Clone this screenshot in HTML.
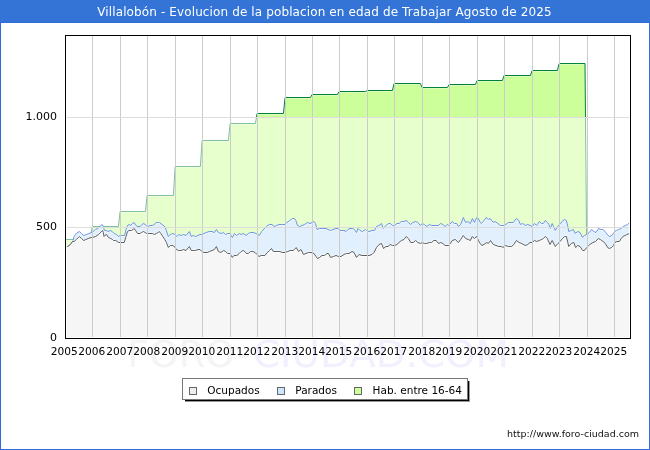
<!DOCTYPE html>
<html><head><meta charset="utf-8"><title>Villalobón - Evolucion de la poblacion en edad de Trabajar</title>
<style>
html,body{margin:0;padding:0;background:#fff;}
body{width:650px;height:450px;overflow:hidden;}
svg{display:block;}
text{font-family:"DejaVu Sans","Liberation Sans",sans-serif;}
</style></head><body>
<svg width="650" height="450" viewBox="0 0 650 450">
<defs><clipPath id="pc"><rect x="67" y="36" width="562" height="301"/></clipPath><clipPath id="pg"><rect x="66" y="36" width="563" height="301"/></clipPath></defs>
<rect x="0" y="0" width="650" height="450" fill="#fff"/>
<rect x="0" y="0" width="650" height="22" fill="#3374d6"/>
<rect x="0.5" y="22.5" width="649" height="427" fill="none" stroke="#2d6cd6" stroke-width="1"/>
<text x="324.5" y="16" fill="#fff" font-size="12" letter-spacing="0.12" text-anchor="middle">Villalobón - Evolucion de la poblacion en edad de Trabajar Agosto de 2025</text>
<g font-size="37"><text x="127.2" y="367" fill="#f4f4f4" textLength="107.6" lengthAdjust="spacingAndGlyphs">FORO</text><text x="237" y="367" fill="#f4f4f4">-</text><text x="253" y="367" fill="#f0f0ff" textLength="256" lengthAdjust="spacingAndGlyphs">CIUDAD.COM</text></g>
<g clip-path="url(#pg)">
<polygon points="64,239.5 90.4,239.5 92.1,226.5 118.4,226.5 120.1,211.5 145.4,211.5 147.1,195.5 173.4,195.5 175.1,166.5 200.4,166.5 202.1,140.5 228.4,140.5 230.1,123.5 255.4,123.5 257.1,113.5 283.4,113.5 285.1,97.5 310.4,97.5 312.1,94.5 337.4,94.5 339.1,91.5 365.4,91.5 367.1,90.5 392.4,90.5 394.1,83.5 420.4,83.5 422.1,87.5 447.4,87.5 449.1,84.5 475.4,84.5 477.1,80.5 502.4,80.5 504.1,75.5 530.4,75.5 532.1,70.5 557.4,70.5 559.1,63.5 585,63.5 587.5,338 587.5,338 64,338" fill="#ccff99"/>
<polyline points="64,240.5 90.4,240.5 92.1,227.5 118.4,227.5 120.1,212.5 145.4,212.5 147.1,196.5 173.4,196.5 175.1,167.5 200.4,167.5 202.1,141.5 228.4,141.5 230.1,124.5 255.4,124.5 257.1,114.5 283.4,114.5 285.1,98.5 310.4,98.5 312.1,95.5 337.4,95.5 339.1,92.5 365.4,92.5 367.1,91.5 392.4,91.5 394.1,84.5 420.4,84.5 422.1,88.5 447.4,88.5 449.1,85.5 475.4,85.5 477.1,81.5 502.4,81.5 504.1,76.5 530.4,76.5 532.1,71.5 557.4,71.5 559.1,64.5 585,64.5" fill="none" stroke="#fff" stroke-opacity="0.3" stroke-width="1"/>
<polyline points="64,239.5 90.4,239.5 92.1,226.5 118.4,226.5 120.1,211.5 145.4,211.5 147.1,195.5 173.4,195.5 175.1,166.5 200.4,166.5 202.1,140.5 228.4,140.5 230.1,123.5 255.4,123.5 257.1,113.5 283.4,113.5 285.1,97.5 310.4,97.5 312.1,94.5 337.4,94.5 339.1,91.5 365.4,91.5 367.1,90.5 392.4,90.5 394.1,83.5 420.4,83.5 422.1,87.5 447.4,87.5 449.1,84.5 475.4,84.5 477.1,80.5 502.4,80.5 504.1,75.5 530.4,75.5 532.1,70.5 557.4,70.5 559.1,63.5 585,63.5 587.5,338" fill="none" stroke="#00803f" stroke-width="1"/>
<rect x="66" y="117" width="563" height="221" fill="#fff" fill-opacity="0.5"/>
</g>
<g clip-path="url(#pc)">
<polygon points="66.5,247.5 70.4,244.5 73,240.5 74.1,236.5 76.3,233.5 79.3,231.5 81.5,233.5 83.7,235.5 86.7,234.5 88.9,233.5 91.5,232.5 93.3,231.5 95.5,229.5 97.8,228.5 100,226.5 102.2,224.5 103.3,226.5 104.4,230.5 106.3,230.5 108.1,231.5 110.3,230.5 112.2,231.5 114.2,233.5 116.4,234.5 118.6,236.5 120.1,235.5 122.3,235.5 124.6,235.5 126,229.5 127.5,225.5 129,224.5 130.8,225.5 132.3,223.5 134.2,222.5 136,225.5 137.8,226.5 140.1,226.5 141.9,224.5 143.8,223.5 146.3,225.5 148.2,226.5 150,225.5 152.3,225.5 154.1,224.5 156.3,222.5 158.2,222.5 159.6,222.5 162,224.5 164.8,226.5 166.4,230.5 168.2,236.5 170.4,234.5 172.8,233.5 174.8,234.5 176.8,236.5 178.8,234.5 181.2,235.5 183.6,234.5 186,235.5 189.4,231.5 191.2,236.5 193.2,235.5 195.6,236.5 198,235.5 200,234.5 201.8,234.5 204,233.5 206.4,232.5 209.2,231.5 212,231.5 214.4,232.5 216.4,229.5 218.4,232.5 221.2,233.5 223.2,232.5 225.6,234.5 227.6,233.5 230,233.5 231.2,235.5 232.4,237.5 234.4,233.5 236.8,235.5 239.2,233.5 241.2,234.5 243.2,233.5 246,235.5 248.4,233.5 250.4,232.5 253.3,232.5 256.1,233.5 259.3,235.5 261.7,231.5 265.4,227.5 267.3,225.5 269.6,224.5 271.9,224.5 274.3,226.5 276.6,225.5 278.9,224.5 282.2,224.5 285,224.5 286.9,222.5 289.7,220.5 292.5,218.5 294.4,218.5 295.8,220.5 297.5,225.5 299.5,226.5 302,225.5 304.5,224.5 307.5,222.5 310,223.5 312,222.5 314,221.5 315.5,223.5 317,229.5 319.5,228.5 322.5,228.5 326,228.5 328,229.5 330.5,230.5 333,229.5 336,228.5 338,228.5 340,230.5 342,230.5 344,230.5 346,231.5 348,229.5 350,228.5 352.5,228.5 354.5,229.5 356.5,232.5 358,228.5 360,230.5 362.5,231.5 365.5,229.5 366.5,230.5 369,231.5 372,230.5 374.5,230.5 376.5,226.5 379,225.5 381.5,223.5 383.2,228.5 386,225.5 388.5,223.5 390.2,223.5 392.4,225.5 394.7,225.5 396.9,223.5 399.1,223.5 401.3,221.5 404,221.5 406.2,220.5 408.4,222.5 410.7,224.5 412.9,222.5 415.6,221.5 417.8,222.5 420.4,225.5 422.2,223.5 424.4,224.5 426.7,226.5 429.3,224.5 431.6,225.5 434,225.5 438.4,225.5 440.7,223.5 442.9,224.5 445.1,226.5 447.3,224.5 448.7,225.5 452.2,221.5 454.4,223.5 456.7,223.5 458.4,226.5 460.7,224.5 463.3,217.5 465.6,222.5 467.8,221.5 470.4,223.5 472.4,218.5 474.4,222.5 476.7,217.5 478.4,218.5 480.2,222.5 481.3,223.5 484,220.5 486.2,217.5 488.4,219.5 490.2,218.5 493.3,222.5 495.1,221.5 497.8,223.5 500.4,225.5 504,225.5 505.8,224.5 508.4,222.5 513.3,222.5 516.4,218.5 518.7,220.5 520.4,224.5 522.7,223.5 525.3,225.5 527.8,224.5 530,225.5 532.2,226.5 534.4,223.5 536.7,225.5 539.3,221.5 541.6,223.5 543.3,223.5 545.4,220.5 547.3,222.5 548.9,224.5 550.4,228.5 552.2,223.5 553.6,226.5 555.3,230.5 557.1,227.5 558.4,225.5 560.7,223.5 562.9,220.5 564.7,219.5 566.4,220.5 567.8,226.5 568.7,231.5 571.3,230.5 573.3,229.5 575.1,233.5 577.8,231.5 580,232.5 582.5,237.5 584.4,235.5 586.7,234.5 589.3,232.5 591.6,229.5 593.8,231.5 596,232.5 598.7,228.5 600.9,229.5 603.1,229.5 605.8,232.5 608,235.5 609.8,236.5 611.9,235.5 613.3,233.5 614.8,231.5 616.5,230.5 618.7,229.5 621.2,228.5 623.3,226.5 625.4,225.5 627.6,224.5 629.6,222.5 629.6,338 66.5,338" fill="#e2f0fe"/>
<polyline points="66.5,248.5 70.4,245.5 73,241.5 74.1,237.5 76.3,234.5 79.3,232.5 81.5,234.5 83.7,236.5 86.7,235.5 88.9,234.5 91.5,233.5 93.3,232.5 95.5,230.5 97.8,229.5 100,227.5 102.2,225.5 103.3,227.5 104.4,231.5 106.3,231.5 108.1,232.5 110.3,231.5 112.2,232.5 114.2,234.5 116.4,235.5 118.6,237.5 120.1,236.5 122.3,236.5 124.6,236.5 126,230.5 127.5,226.5 129,225.5 130.8,226.5 132.3,224.5 134.2,223.5 136,226.5 137.8,227.5 140.1,227.5 141.9,225.5 143.8,224.5 146.3,226.5 148.2,227.5 150,226.5 152.3,226.5 154.1,225.5 156.3,223.5 158.2,223.5 159.6,223.5 162,225.5 164.8,227.5 166.4,231.5 168.2,237.5 170.4,235.5 172.8,234.5 174.8,235.5 176.8,237.5 178.8,235.5 181.2,236.5 183.6,235.5 186,236.5 189.4,232.5 191.2,237.5 193.2,236.5 195.6,237.5 198,236.5 200,235.5 201.8,235.5 204,234.5 206.4,233.5 209.2,232.5 212,232.5 214.4,233.5 216.4,230.5 218.4,233.5 221.2,234.5 223.2,233.5 225.6,235.5 227.6,234.5 230,234.5 231.2,236.5 232.4,238.5 234.4,234.5 236.8,236.5 239.2,234.5 241.2,235.5 243.2,234.5 246,236.5 248.4,234.5 250.4,233.5 253.3,233.5 256.1,234.5 259.3,236.5 261.7,232.5 265.4,228.5 267.3,226.5 269.6,225.5 271.9,225.5 274.3,227.5 276.6,226.5 278.9,225.5 282.2,225.5 285,225.5 286.9,223.5 289.7,221.5 292.5,219.5 294.4,219.5 295.8,221.5 297.5,226.5 299.5,227.5 302,226.5 304.5,225.5 307.5,223.5 310,224.5 312,223.5 314,222.5 315.5,224.5 317,230.5 319.5,229.5 322.5,229.5 326,229.5 328,230.5 330.5,231.5 333,230.5 336,229.5 338,229.5 340,231.5 342,231.5 344,231.5 346,232.5 348,230.5 350,229.5 352.5,229.5 354.5,230.5 356.5,233.5 358,229.5 360,231.5 362.5,232.5 365.5,230.5 366.5,231.5 369,232.5 372,231.5 374.5,231.5 376.5,227.5 379,226.5 381.5,224.5 383.2,229.5 386,226.5 388.5,224.5 390.2,224.5 392.4,226.5 394.7,226.5 396.9,224.5 399.1,224.5 401.3,222.5 404,222.5 406.2,221.5 408.4,223.5 410.7,225.5 412.9,223.5 415.6,222.5 417.8,223.5 420.4,226.5 422.2,224.5 424.4,225.5 426.7,227.5 429.3,225.5 431.6,226.5 434,226.5 438.4,226.5 440.7,224.5 442.9,225.5 445.1,227.5 447.3,225.5 448.7,226.5 452.2,222.5 454.4,224.5 456.7,224.5 458.4,227.5 460.7,225.5 463.3,218.5 465.6,223.5 467.8,222.5 470.4,224.5 472.4,219.5 474.4,223.5 476.7,218.5 478.4,219.5 480.2,223.5 481.3,224.5 484,221.5 486.2,218.5 488.4,220.5 490.2,219.5 493.3,223.5 495.1,222.5 497.8,224.5 500.4,226.5 504,226.5 505.8,225.5 508.4,223.5 513.3,223.5 516.4,219.5 518.7,221.5 520.4,225.5 522.7,224.5 525.3,226.5 527.8,225.5 530,226.5 532.2,227.5 534.4,224.5 536.7,226.5 539.3,222.5 541.6,224.5 543.3,224.5 545.4,221.5 547.3,223.5 548.9,225.5 550.4,229.5 552.2,224.5 553.6,227.5 555.3,231.5 557.1,228.5 558.4,226.5 560.7,224.5 562.9,221.5 564.7,220.5 566.4,221.5 567.8,227.5 568.7,232.5 571.3,231.5 573.3,230.5 575.1,234.5 577.8,232.5 580,233.5 582.5,238.5 584.4,236.5 586.7,235.5 589.3,233.5 591.6,230.5 593.8,232.5 596,233.5 598.7,229.5 600.9,230.5 603.1,230.5 605.8,233.5 608,236.5 609.8,237.5 611.9,236.5 613.3,234.5 614.8,232.5 616.5,231.5 618.7,230.5 621.2,229.5 623.3,227.5 625.4,226.5 627.6,225.5 629.6,223.5" fill="none" stroke="#fff" stroke-opacity="0.5" stroke-width="1"/>
<polyline points="66.5,247.5 70.4,244.5 73,240.5 74.1,236.5 76.3,233.5 79.3,231.5 81.5,233.5 83.7,235.5 86.7,234.5 88.9,233.5 91.5,232.5 93.3,231.5 95.5,229.5 97.8,228.5 100,226.5 102.2,224.5 103.3,226.5 104.4,230.5 106.3,230.5 108.1,231.5 110.3,230.5 112.2,231.5 114.2,233.5 116.4,234.5 118.6,236.5 120.1,235.5 122.3,235.5 124.6,235.5 126,229.5 127.5,225.5 129,224.5 130.8,225.5 132.3,223.5 134.2,222.5 136,225.5 137.8,226.5 140.1,226.5 141.9,224.5 143.8,223.5 146.3,225.5 148.2,226.5 150,225.5 152.3,225.5 154.1,224.5 156.3,222.5 158.2,222.5 159.6,222.5 162,224.5 164.8,226.5 166.4,230.5 168.2,236.5 170.4,234.5 172.8,233.5 174.8,234.5 176.8,236.5 178.8,234.5 181.2,235.5 183.6,234.5 186,235.5 189.4,231.5 191.2,236.5 193.2,235.5 195.6,236.5 198,235.5 200,234.5 201.8,234.5 204,233.5 206.4,232.5 209.2,231.5 212,231.5 214.4,232.5 216.4,229.5 218.4,232.5 221.2,233.5 223.2,232.5 225.6,234.5 227.6,233.5 230,233.5 231.2,235.5 232.4,237.5 234.4,233.5 236.8,235.5 239.2,233.5 241.2,234.5 243.2,233.5 246,235.5 248.4,233.5 250.4,232.5 253.3,232.5 256.1,233.5 259.3,235.5 261.7,231.5 265.4,227.5 267.3,225.5 269.6,224.5 271.9,224.5 274.3,226.5 276.6,225.5 278.9,224.5 282.2,224.5 285,224.5 286.9,222.5 289.7,220.5 292.5,218.5 294.4,218.5 295.8,220.5 297.5,225.5 299.5,226.5 302,225.5 304.5,224.5 307.5,222.5 310,223.5 312,222.5 314,221.5 315.5,223.5 317,229.5 319.5,228.5 322.5,228.5 326,228.5 328,229.5 330.5,230.5 333,229.5 336,228.5 338,228.5 340,230.5 342,230.5 344,230.5 346,231.5 348,229.5 350,228.5 352.5,228.5 354.5,229.5 356.5,232.5 358,228.5 360,230.5 362.5,231.5 365.5,229.5 366.5,230.5 369,231.5 372,230.5 374.5,230.5 376.5,226.5 379,225.5 381.5,223.5 383.2,228.5 386,225.5 388.5,223.5 390.2,223.5 392.4,225.5 394.7,225.5 396.9,223.5 399.1,223.5 401.3,221.5 404,221.5 406.2,220.5 408.4,222.5 410.7,224.5 412.9,222.5 415.6,221.5 417.8,222.5 420.4,225.5 422.2,223.5 424.4,224.5 426.7,226.5 429.3,224.5 431.6,225.5 434,225.5 438.4,225.5 440.7,223.5 442.9,224.5 445.1,226.5 447.3,224.5 448.7,225.5 452.2,221.5 454.4,223.5 456.7,223.5 458.4,226.5 460.7,224.5 463.3,217.5 465.6,222.5 467.8,221.5 470.4,223.5 472.4,218.5 474.4,222.5 476.7,217.5 478.4,218.5 480.2,222.5 481.3,223.5 484,220.5 486.2,217.5 488.4,219.5 490.2,218.5 493.3,222.5 495.1,221.5 497.8,223.5 500.4,225.5 504,225.5 505.8,224.5 508.4,222.5 513.3,222.5 516.4,218.5 518.7,220.5 520.4,224.5 522.7,223.5 525.3,225.5 527.8,224.5 530,225.5 532.2,226.5 534.4,223.5 536.7,225.5 539.3,221.5 541.6,223.5 543.3,223.5 545.4,220.5 547.3,222.5 548.9,224.5 550.4,228.5 552.2,223.5 553.6,226.5 555.3,230.5 557.1,227.5 558.4,225.5 560.7,223.5 562.9,220.5 564.7,219.5 566.4,220.5 567.8,226.5 568.7,231.5 571.3,230.5 573.3,229.5 575.1,233.5 577.8,231.5 580,232.5 582.5,237.5 584.4,235.5 586.7,234.5 589.3,232.5 591.6,229.5 593.8,231.5 596,232.5 598.7,228.5 600.9,229.5 603.1,229.5 605.8,232.5 608,235.5 609.8,236.5 611.9,235.5 613.3,233.5 614.8,231.5 616.5,230.5 618.7,229.5 621.2,228.5 623.3,226.5 625.4,225.5 627.6,224.5 629.6,222.5" fill="none" stroke="#6d94e4" stroke-width="1"/>
<polygon points="66,246.5 67.8,246.5 70.4,244.5 72.6,241.5 74.1,241.5 76.3,239.5 79.3,236.5 81.5,238.5 83.7,240.5 85.9,239.5 88.2,238.5 91.1,237.5 92.6,237.5 95.5,236.5 98.5,234.5 100.7,232.5 102.6,230.5 103.3,232.5 104,236.5 104.8,235.5 106.6,234.5 108.5,237.5 110.7,238.5 112.5,239.5 113.5,240.5 115.7,240.5 118.6,242.5 120.9,242.5 124.2,242.5 126,236.5 127.5,231.5 129,230.5 131.6,230.5 134.2,228.5 135.6,230.5 137.5,233.5 140.1,233.5 141.5,232.5 143.4,231.5 145.2,232.5 146.7,233.5 148.2,233.5 150,233.5 152.3,233.5 154.5,234.5 156.3,233.5 158.2,232.5 159.2,231.5 160.8,233.5 162.8,236.5 164.8,239.5 166.4,242.5 168.4,247.5 170.4,245.5 172.8,245.5 175.2,247.5 176.4,249.5 178.4,250.5 181.2,250.5 183.6,249.5 186,250.5 189.4,246.5 191.2,250.5 193.6,250.5 195.6,250.5 198,249.5 200,249.5 201.8,251.5 204,252.5 207.2,252.5 209.6,251.5 212,250.5 214.4,249.5 216.4,246.5 218.4,251.5 220.8,252.5 223.6,250.5 225.6,251.5 227.6,253.5 230,253.5 231.2,255.5 232.4,257.5 234,255.5 236.8,255.5 239.2,253.5 241.2,251.5 243.2,250.5 244.8,251.5 246.4,253.5 248.4,253.5 250.4,251.5 252.8,251.5 255.1,252.5 257,254.5 258.9,256.5 261.2,255.5 264.9,255.5 267.3,252.5 269.6,250.5 271.5,248.5 273.3,251.5 277.1,251.5 279.9,251.5 282.2,252.5 285,252.5 287.8,251.5 290.1,250.5 293.4,250.5 296.2,247.5 298.5,251.5 301,249.5 303.5,254.5 306,253.5 308.5,252.5 311,252.5 314,253.5 316,256.5 317.5,258.5 319.5,257.5 322,255.5 324.5,255.5 327,253.5 328.5,253.5 330.5,257.5 333.5,256.5 336,255.5 338.5,256.5 341,256.5 344,254.5 346.5,253.5 349,253.5 352,251.5 354,252.5 356.5,257.5 359,254.5 362,255.5 366,255.5 369,255.5 372,254.5 374,252.5 376.5,247.5 379,244.5 381.5,243.5 383.5,248.5 386,246.5 388,246.5 390.2,244.5 392.4,245.5 394.7,245.5 396.9,244.5 399.1,242.5 401.3,240.5 404,239.5 406.2,236.5 408.4,238.5 410.7,242.5 413.3,242.5 415.6,240.5 417.8,242.5 420.4,243.5 422.2,242.5 424.4,243.5 426.7,243.5 429.3,242.5 431.6,242.5 433.8,240.5 436.2,240.5 438.4,243.5 440.7,242.5 442.9,243.5 445.1,245.5 448.7,245.5 450.4,243.5 452.2,240.5 455.3,239.5 458.4,242.5 460.7,239.5 463.3,235.5 465.6,238.5 468.2,239.5 470.4,240.5 472.2,236.5 474.4,238.5 476.7,236.5 478.4,240.5 480.2,243.5 481.8,245.5 484,244.5 486.7,242.5 488.4,243.5 490.5,240.5 493.3,244.5 496,245.5 498.7,246.5 501.3,246.5 502.9,247.5 505.3,245.5 508.4,246.5 511.6,246.5 513.8,244.5 516.4,240.5 519.1,242.5 521.8,243.5 525.3,245.5 527.8,244.5 530,242.5 532.2,242.5 534.4,240.5 536.7,241.5 539.3,240.5 541.6,239.5 543.3,238.5 545.4,236.5 547.3,238.5 550,244.5 552.2,240.5 555.3,246.5 558,243.5 560.2,241.5 562.4,238.5 564.7,236.5 566.4,236.5 567.8,242.5 568.7,246.5 571.3,243.5 573.8,242.5 575.6,247.5 577.8,245.5 580,246.5 582.7,250.5 584.4,250.5 586.7,247.5 589.8,244.5 592.9,242.5 595.6,241.5 598.2,238.5 600.4,239.5 603.1,241.5 605.3,243.5 607.6,247.5 609.3,248.5 611.6,247.5 613.6,245.5 614.8,242.5 616.9,241.5 619.4,241.5 621.2,238.5 622.9,236.5 625.1,235.5 626.8,234.5 629.6,233.5 629.6,338 66,338" fill="#f6f6f6"/>
<polyline points="66,245.5 67.8,245.5 70.4,243.5 72.6,240.5 74.1,240.5 76.3,238.5 79.3,235.5 81.5,237.5 83.7,239.5 85.9,238.5 88.2,237.5 91.1,236.5 92.6,236.5 95.5,235.5 98.5,233.5 100.7,231.5 102.6,229.5 103.3,231.5 104,235.5 104.8,234.5 106.6,233.5 108.5,236.5 110.7,237.5 112.5,238.5 113.5,239.5 115.7,239.5 118.6,241.5 120.9,241.5 124.2,241.5 126,235.5 127.5,230.5 129,229.5 131.6,229.5 134.2,227.5 135.6,229.5 137.5,232.5 140.1,232.5 141.5,231.5 143.4,230.5 145.2,231.5 146.7,232.5 148.2,232.5 150,232.5 152.3,232.5 154.5,233.5 156.3,232.5 158.2,231.5 159.2,230.5 160.8,232.5 162.8,235.5 164.8,238.5 166.4,241.5 168.4,246.5 170.4,244.5 172.8,244.5 175.2,246.5 176.4,248.5 178.4,249.5 181.2,249.5 183.6,248.5 186,249.5 189.4,245.5 191.2,249.5 193.6,249.5 195.6,249.5 198,248.5 200,248.5 201.8,250.5 204,251.5 207.2,251.5 209.6,250.5 212,249.5 214.4,248.5 216.4,245.5 218.4,250.5 220.8,251.5 223.6,249.5 225.6,250.5 227.6,252.5 230,252.5 231.2,254.5 232.4,256.5 234,254.5 236.8,254.5 239.2,252.5 241.2,250.5 243.2,249.5 244.8,250.5 246.4,252.5 248.4,252.5 250.4,250.5 252.8,250.5 255.1,251.5 257,253.5 258.9,255.5 261.2,254.5 264.9,254.5 267.3,251.5 269.6,249.5 271.5,247.5 273.3,250.5 277.1,250.5 279.9,250.5 282.2,251.5 285,251.5 287.8,250.5 290.1,249.5 293.4,249.5 296.2,246.5 298.5,250.5 301,248.5 303.5,253.5 306,252.5 308.5,251.5 311,251.5 314,252.5 316,255.5 317.5,257.5 319.5,256.5 322,254.5 324.5,254.5 327,252.5 328.5,252.5 330.5,256.5 333.5,255.5 336,254.5 338.5,255.5 341,255.5 344,253.5 346.5,252.5 349,252.5 352,250.5 354,251.5 356.5,256.5 359,253.5 362,254.5 366,254.5 369,254.5 372,253.5 374,251.5 376.5,246.5 379,243.5 381.5,242.5 383.5,247.5 386,245.5 388,245.5 390.2,243.5 392.4,244.5 394.7,244.5 396.9,243.5 399.1,241.5 401.3,239.5 404,238.5 406.2,235.5 408.4,237.5 410.7,241.5 413.3,241.5 415.6,239.5 417.8,241.5 420.4,242.5 422.2,241.5 424.4,242.5 426.7,242.5 429.3,241.5 431.6,241.5 433.8,239.5 436.2,239.5 438.4,242.5 440.7,241.5 442.9,242.5 445.1,244.5 448.7,244.5 450.4,242.5 452.2,239.5 455.3,238.5 458.4,241.5 460.7,238.5 463.3,234.5 465.6,237.5 468.2,238.5 470.4,239.5 472.2,235.5 474.4,237.5 476.7,235.5 478.4,239.5 480.2,242.5 481.8,244.5 484,243.5 486.7,241.5 488.4,242.5 490.5,239.5 493.3,243.5 496,244.5 498.7,245.5 501.3,245.5 502.9,246.5 505.3,244.5 508.4,245.5 511.6,245.5 513.8,243.5 516.4,239.5 519.1,241.5 521.8,242.5 525.3,244.5 527.8,243.5 530,241.5 532.2,241.5 534.4,239.5 536.7,240.5 539.3,239.5 541.6,238.5 543.3,237.5 545.4,235.5 547.3,237.5 550,243.5 552.2,239.5 555.3,245.5 558,242.5 560.2,240.5 562.4,237.5 564.7,235.5 566.4,235.5 567.8,241.5 568.7,245.5 571.3,242.5 573.8,241.5 575.6,246.5 577.8,244.5 580,245.5 582.7,249.5 584.4,249.5 586.7,246.5 589.8,243.5 592.9,241.5 595.6,240.5 598.2,237.5 600.4,238.5 603.1,240.5 605.3,242.5 607.6,246.5 609.3,247.5 611.6,246.5 613.6,244.5 614.8,241.5 616.9,240.5 619.4,240.5 621.2,237.5 622.9,235.5 625.1,234.5 626.8,233.5 629.6,232.5" fill="none" stroke="#fff" stroke-opacity="0.4" stroke-width="1"/>
<polyline points="66,247.5 67.8,247.5 70.4,245.5 72.6,242.5 74.1,242.5 76.3,240.5 79.3,237.5 81.5,239.5 83.7,241.5 85.9,240.5 88.2,239.5 91.1,238.5 92.6,238.5 95.5,237.5 98.5,235.5 100.7,233.5 102.6,231.5 103.3,233.5 104,237.5 104.8,236.5 106.6,235.5 108.5,238.5 110.7,239.5 112.5,240.5 113.5,241.5 115.7,241.5 118.6,243.5 120.9,243.5 124.2,243.5 126,237.5 127.5,232.5 129,231.5 131.6,231.5 134.2,229.5 135.6,231.5 137.5,234.5 140.1,234.5 141.5,233.5 143.4,232.5 145.2,233.5 146.7,234.5 148.2,234.5 150,234.5 152.3,234.5 154.5,235.5 156.3,234.5 158.2,233.5 159.2,232.5 160.8,234.5 162.8,237.5 164.8,240.5 166.4,243.5 168.4,248.5 170.4,246.5 172.8,246.5 175.2,248.5 176.4,250.5 178.4,251.5 181.2,251.5 183.6,250.5 186,251.5 189.4,247.5 191.2,251.5 193.6,251.5 195.6,251.5 198,250.5 200,250.5 201.8,252.5 204,253.5 207.2,253.5 209.6,252.5 212,251.5 214.4,250.5 216.4,247.5 218.4,252.5 220.8,253.5 223.6,251.5 225.6,252.5 227.6,254.5 230,254.5 231.2,256.5 232.4,258.5 234,256.5 236.8,256.5 239.2,254.5 241.2,252.5 243.2,251.5 244.8,252.5 246.4,254.5 248.4,254.5 250.4,252.5 252.8,252.5 255.1,253.5 257,255.5 258.9,257.5 261.2,256.5 264.9,256.5 267.3,253.5 269.6,251.5 271.5,249.5 273.3,252.5 277.1,252.5 279.9,252.5 282.2,253.5 285,253.5 287.8,252.5 290.1,251.5 293.4,251.5 296.2,248.5 298.5,252.5 301,250.5 303.5,255.5 306,254.5 308.5,253.5 311,253.5 314,254.5 316,257.5 317.5,259.5 319.5,258.5 322,256.5 324.5,256.5 327,254.5 328.5,254.5 330.5,258.5 333.5,257.5 336,256.5 338.5,257.5 341,257.5 344,255.5 346.5,254.5 349,254.5 352,252.5 354,253.5 356.5,258.5 359,255.5 362,256.5 366,256.5 369,256.5 372,255.5 374,253.5 376.5,248.5 379,245.5 381.5,244.5 383.5,249.5 386,247.5 388,247.5 390.2,245.5 392.4,246.5 394.7,246.5 396.9,245.5 399.1,243.5 401.3,241.5 404,240.5 406.2,237.5 408.4,239.5 410.7,243.5 413.3,243.5 415.6,241.5 417.8,243.5 420.4,244.5 422.2,243.5 424.4,244.5 426.7,244.5 429.3,243.5 431.6,243.5 433.8,241.5 436.2,241.5 438.4,244.5 440.7,243.5 442.9,244.5 445.1,246.5 448.7,246.5 450.4,244.5 452.2,241.5 455.3,240.5 458.4,243.5 460.7,240.5 463.3,236.5 465.6,239.5 468.2,240.5 470.4,241.5 472.2,237.5 474.4,239.5 476.7,237.5 478.4,241.5 480.2,244.5 481.8,246.5 484,245.5 486.7,243.5 488.4,244.5 490.5,241.5 493.3,245.5 496,246.5 498.7,247.5 501.3,247.5 502.9,248.5 505.3,246.5 508.4,247.5 511.6,247.5 513.8,245.5 516.4,241.5 519.1,243.5 521.8,244.5 525.3,246.5 527.8,245.5 530,243.5 532.2,243.5 534.4,241.5 536.7,242.5 539.3,241.5 541.6,240.5 543.3,239.5 545.4,237.5 547.3,239.5 550,245.5 552.2,241.5 555.3,247.5 558,244.5 560.2,242.5 562.4,239.5 564.7,237.5 566.4,237.5 567.8,243.5 568.7,247.5 571.3,244.5 573.8,243.5 575.6,248.5 577.8,246.5 580,247.5 582.7,251.5 584.4,251.5 586.7,248.5 589.8,245.5 592.9,243.5 595.6,242.5 598.2,239.5 600.4,240.5 603.1,242.5 605.3,244.5 607.6,248.5 609.3,249.5 611.6,248.5 613.6,246.5 614.8,243.5 616.9,242.5 619.4,242.5 621.2,239.5 622.9,237.5 625.1,236.5 626.8,235.5 629.6,234.5" fill="none" stroke="#fff" stroke-opacity="0.9" stroke-width="1"/>
<polyline points="66,246.5 67.8,246.5 70.4,244.5 72.6,241.5 74.1,241.5 76.3,239.5 79.3,236.5 81.5,238.5 83.7,240.5 85.9,239.5 88.2,238.5 91.1,237.5 92.6,237.5 95.5,236.5 98.5,234.5 100.7,232.5 102.6,230.5 103.3,232.5 104,236.5 104.8,235.5 106.6,234.5 108.5,237.5 110.7,238.5 112.5,239.5 113.5,240.5 115.7,240.5 118.6,242.5 120.9,242.5 124.2,242.5 126,236.5 127.5,231.5 129,230.5 131.6,230.5 134.2,228.5 135.6,230.5 137.5,233.5 140.1,233.5 141.5,232.5 143.4,231.5 145.2,232.5 146.7,233.5 148.2,233.5 150,233.5 152.3,233.5 154.5,234.5 156.3,233.5 158.2,232.5 159.2,231.5 160.8,233.5 162.8,236.5 164.8,239.5 166.4,242.5 168.4,247.5 170.4,245.5 172.8,245.5 175.2,247.5 176.4,249.5 178.4,250.5 181.2,250.5 183.6,249.5 186,250.5 189.4,246.5 191.2,250.5 193.6,250.5 195.6,250.5 198,249.5 200,249.5 201.8,251.5 204,252.5 207.2,252.5 209.6,251.5 212,250.5 214.4,249.5 216.4,246.5 218.4,251.5 220.8,252.5 223.6,250.5 225.6,251.5 227.6,253.5 230,253.5 231.2,255.5 232.4,257.5 234,255.5 236.8,255.5 239.2,253.5 241.2,251.5 243.2,250.5 244.8,251.5 246.4,253.5 248.4,253.5 250.4,251.5 252.8,251.5 255.1,252.5 257,254.5 258.9,256.5 261.2,255.5 264.9,255.5 267.3,252.5 269.6,250.5 271.5,248.5 273.3,251.5 277.1,251.5 279.9,251.5 282.2,252.5 285,252.5 287.8,251.5 290.1,250.5 293.4,250.5 296.2,247.5 298.5,251.5 301,249.5 303.5,254.5 306,253.5 308.5,252.5 311,252.5 314,253.5 316,256.5 317.5,258.5 319.5,257.5 322,255.5 324.5,255.5 327,253.5 328.5,253.5 330.5,257.5 333.5,256.5 336,255.5 338.5,256.5 341,256.5 344,254.5 346.5,253.5 349,253.5 352,251.5 354,252.5 356.5,257.5 359,254.5 362,255.5 366,255.5 369,255.5 372,254.5 374,252.5 376.5,247.5 379,244.5 381.5,243.5 383.5,248.5 386,246.5 388,246.5 390.2,244.5 392.4,245.5 394.7,245.5 396.9,244.5 399.1,242.5 401.3,240.5 404,239.5 406.2,236.5 408.4,238.5 410.7,242.5 413.3,242.5 415.6,240.5 417.8,242.5 420.4,243.5 422.2,242.5 424.4,243.5 426.7,243.5 429.3,242.5 431.6,242.5 433.8,240.5 436.2,240.5 438.4,243.5 440.7,242.5 442.9,243.5 445.1,245.5 448.7,245.5 450.4,243.5 452.2,240.5 455.3,239.5 458.4,242.5 460.7,239.5 463.3,235.5 465.6,238.5 468.2,239.5 470.4,240.5 472.2,236.5 474.4,238.5 476.7,236.5 478.4,240.5 480.2,243.5 481.8,245.5 484,244.5 486.7,242.5 488.4,243.5 490.5,240.5 493.3,244.5 496,245.5 498.7,246.5 501.3,246.5 502.9,247.5 505.3,245.5 508.4,246.5 511.6,246.5 513.8,244.5 516.4,240.5 519.1,242.5 521.8,243.5 525.3,245.5 527.8,244.5 530,242.5 532.2,242.5 534.4,240.5 536.7,241.5 539.3,240.5 541.6,239.5 543.3,238.5 545.4,236.5 547.3,238.5 550,244.5 552.2,240.5 555.3,246.5 558,243.5 560.2,241.5 562.4,238.5 564.7,236.5 566.4,236.5 567.8,242.5 568.7,246.5 571.3,243.5 573.8,242.5 575.6,247.5 577.8,245.5 580,246.5 582.7,250.5 584.4,250.5 586.7,247.5 589.8,244.5 592.9,242.5 595.6,241.5 598.2,238.5 600.4,239.5 603.1,241.5 605.3,243.5 607.6,247.5 609.3,248.5 611.6,247.5 613.6,245.5 614.8,242.5 616.9,241.5 619.4,241.5 621.2,238.5 622.9,236.5 625.1,235.5 626.8,234.5 629.6,233.5" fill="none" stroke="#5e5e5e" stroke-width="1"/>
</g>
<path d="M66.5,247.5V337.5H629.5V234.5" fill="none" stroke="#fff" stroke-width="1"/>
<g stroke="#cccccc" stroke-width="1"><line x1="92.5" y1="36" x2="92.5" y2="337"/><line x1="120.5" y1="36" x2="120.5" y2="337"/><line x1="147.5" y1="36" x2="147.5" y2="337"/><line x1="175.5" y1="36" x2="175.5" y2="337"/><line x1="202.5" y1="36" x2="202.5" y2="337"/><line x1="230.5" y1="36" x2="230.5" y2="337"/><line x1="257.5" y1="36" x2="257.5" y2="337"/><line x1="285.5" y1="36" x2="285.5" y2="337"/><line x1="312.5" y1="36" x2="312.5" y2="337"/><line x1="339.5" y1="36" x2="339.5" y2="337"/><line x1="367.5" y1="36" x2="367.5" y2="337"/><line x1="394.5" y1="36" x2="394.5" y2="337"/><line x1="422.5" y1="36" x2="422.5" y2="337"/><line x1="449.5" y1="36" x2="449.5" y2="337"/><line x1="477.5" y1="36" x2="477.5" y2="337"/><line x1="504.5" y1="36" x2="504.5" y2="337"/><line x1="532.5" y1="36" x2="532.5" y2="337"/><line x1="559.5" y1="36" x2="559.5" y2="337"/><line x1="587.5" y1="36" x2="587.5" y2="337"/><line x1="614.5" y1="36" x2="614.5" y2="337"/></g>
<g stroke="#dddddd" stroke-width="1"><line x1="67" y1="117.5" x2="629" y2="117.5"/><line x1="67" y1="227.5" x2="629" y2="227.5"/></g>
<rect x="65.5" y="35.5" width="565" height="303" fill="none" stroke="#000" stroke-width="1"/>
<g font-size="11" fill="#000" text-anchor="end"><text x="57" y="120">1.000</text><text x="57" y="230">500</text><text x="57" y="341">0</text></g>
<g font-size="10.6" fill="#000" text-anchor="middle"><text x="64.3" y="355">2005</text><text x="91.8" y="355">2006</text><text x="119.8" y="355">2007</text><text x="146.8" y="355">2008</text><text x="174.8" y="355">2009</text><text x="201.8" y="355">2010</text><text x="229.8" y="355">2011</text><text x="256.8" y="355">2012</text><text x="284.8" y="355">2013</text><text x="311.8" y="355">2014</text><text x="338.8" y="355">2015</text><text x="366.8" y="355">2016</text><text x="393.8" y="355">2017</text><text x="421.8" y="355">2018</text><text x="448.8" y="355">2019</text><text x="476.8" y="355">2020</text><text x="503.8" y="355">2021</text><text x="531.8" y="355">2022</text><text x="558.8" y="355">2023</text><text x="586.8" y="355">2024</text><text x="613.8" y="355">2025</text></g>
<rect x="468" y="381" width="1" height="21" fill="#000"/>
<rect x="469" y="381" width="1" height="21" fill="#999"/>
<rect x="185" y="400" width="284" height="1" fill="#000"/>
<rect x="185" y="401" width="284" height="1" fill="#999"/>
<rect x="182.5" y="378.5" width="285" height="21" fill="#fff" stroke="#777" stroke-width="1"/>
<g stroke="#666" stroke-width="1">
<rect x="189.5" y="387.5" width="7" height="7" fill="#eeeeee"/>
<rect x="277.5" y="387.5" width="7" height="7" fill="#cce6ff"/>
<rect x="354.5" y="387.5" width="7" height="7" fill="#ccff99"/>
</g>
<g font-size="10.5" fill="#000"><text x="207.3" y="394">Ocupados</text><text x="295.3" y="394">Parados</text><text x="372.6" y="394">Hab. entre 16-64</text></g>
<text x="639" y="437" font-size="9.5" fill="#111" text-anchor="end">http://www.foro-ciudad.com</text>
</svg>
</body></html>
